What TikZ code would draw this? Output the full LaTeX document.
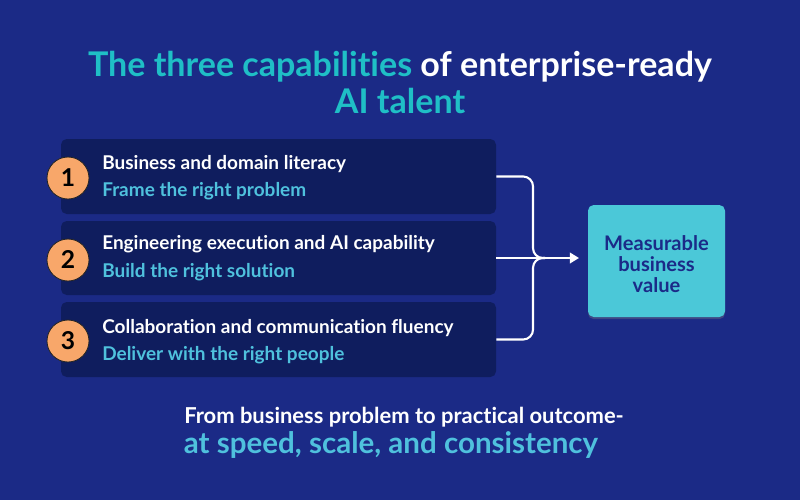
\documentclass[tikz,border=0pt]{standalone}
\usepackage{fontspec}
\setmainfont{Lato}[Ligatures=NoCommon]
\usetikzlibrary{calc,arrows.meta,positioning,shadows}
\definecolor{bgblue}{HTML}{1B2A86}
\definecolor{boxblue}{HTML}{0F1D5E}
\definecolor{titleteal}{HTML}{1FBFC6}
\definecolor{skyblue}{HTML}{4FC1DD}
\definecolor{peach}{HTML}{F8A76A}
\definecolor{valcyan}{HTML}{4BC8D8}
\definecolor{valtext}{HTML}{1B2A88}
\newcommand{\px}{0.025cm}

\tikzset{
  capbox/.style={fill=boxblue, rounded corners=4pt, minimum width=435*\px, minimum height=75*\px, inner sep=0pt},
  numdot/.style={circle, fill=peach, draw=black!85, line width=0.6pt, minimum size=42*\px, inner sep=0pt,
    font=\fontsize{17.5}{17.5}\selectfont\bfseries, text=black},
  caphead/.style={anchor=base west, inner sep=0pt, text=white, font=\fontsize{13.5}{15}\selectfont\bfseries},
  capsub/.style={anchor=base west, inner sep=0pt, text=skyblue, font=\fontsize{13.5}{15}\selectfont\bfseries},
  conn/.style={draw=white, line width=1.5pt},
}

\begin{document}
\begin{tikzpicture}[x=\px, y=-\px]
\fill[bgblue] (0,0) rectangle (800,500);
% heading
\node[anchor=base, inner sep=0pt, font=\fontsize{24.2}{26}\selectfont\bfseries] (title1) at (400,76)
  {\textcolor{titleteal}{The three capabilities} \textcolor{white}{of enterprise-ready}};
\node[anchor=base, inner sep=0pt, font=\fontsize{24.2}{26}\selectfont\bfseries, text=titleteal] (title2) at (400,113) {AI talent};
% capability boxes
\node[capbox] (b1) at (278.5,176.5) {};
\node[capbox, minimum height=74*\px] (b2) at (278.5,258) {};
\node[capbox] (b3) at (278.5,339.5) {};
\node[numdot] (n1) at (68,178) {1};
\node[numdot] (n2) at (68,260) {2};
\node[numdot] (n3) at (68,341) {3};
\node[caphead] (h1) at (102,169) {Business and domain literacy};
\node[capsub] (s1) at (102,196) {Frame the right problem};
\node[caphead] (h2) at (102,249) {Engineering execution and AI capability};
\node[capsub] (s2) at (102,277) {Build the right solution};
\node[caphead] (h3) at (102,333) {Collaboration and communication fluency};
\node[capsub] (s3) at (102,360) {Deliver with the right people};
% result
\node[fill=valcyan, rounded corners=4pt, minimum width=137*\px, minimum height=112*\px,
  drop shadow={opacity=0.35, shadow xshift=0pt, shadow yshift=-1.5pt}] (val) at (656.5,261) {};
\node[align=center, inner sep=0pt, text=valtext, font=\fontsize{14.3}{15.2}\selectfont\bfseries]
  (valtxt) at ($(val.center)+(0,3)$) {Measurable\\business\\value};
\coordinate (j) at (533,258);
\coordinate (tip) at (579,258);
\draw[conn, rounded corners=7] (b1.east) -| (j) -- ($(j)+(12,0)$);
\draw[conn, rounded corners=7] (b3.east) -| (j) -- ($(j)+(12,0)$);
\draw[conn, -{Triangle[length=6.5pt,width=7.5pt]}] (b2.east) -- (tip);
% footer
\node[anchor=base, inner sep=0pt, text=white, font=\fontsize{15.6}{18}\selectfont\bfseries] (foot1) at (404,423)
  {From business problem to practical outcome-};
\node[anchor=base, inner sep=0pt, text=skyblue, font=\fontsize{21}{24}\selectfont\bfseries] (foot2) at (391,453)
  {at speed, scale, and consistency};
\end{tikzpicture}
\end{document}
